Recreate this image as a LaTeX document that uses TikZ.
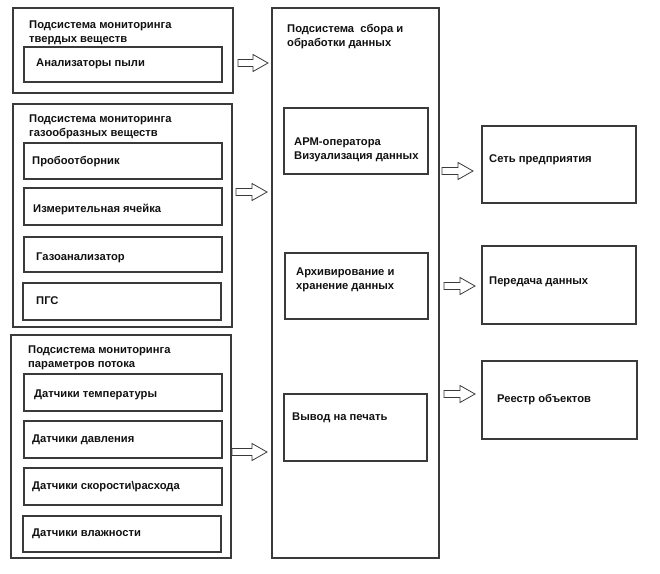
\documentclass[tikz,border=0pt]{standalone}
\usepackage{fontspec}
\setmainfont{Liberation Sans}
\definecolor{lc}{HTML}{3A3A3A}
\definecolor{tc}{HTML}{111111}
\newcommand\txt{\fontsize{11.2}{14.8}\selectfont\bfseries\color{tc}}
\newcommand\twol[2]{\vtop{\hbox{#1}\hbox{#2}}}
\newcommand\mkbox[5]{\node[box,minimum width=#4-#2,minimum height=#5-#3] (#1) at ({(#2+#4)/2},{(#3+#5)/2}) {};}
\newcommand\barrow[4]{\coordinate (#1) at (#2,#4);
  \draw[arr] (#1) ++(0,-3.5) -- (#3-15,#4-3.5) -- (#3-15,#4-8.5) -- (#3,#4) -- (#3-15,#4+8.5) -- (#3-15,#4+3.5) -- (#2,#4+3.5) -- cycle;}
\begin{document}
\begin{tikzpicture}[x=1pt,y=-1pt,
  box/.style={draw=lc,line width=1.3pt,inner sep=0,outer sep=0,fill=none},
  lbl/.style={anchor=mid west,inner sep=0,font=\txt,yshift=-1.5pt},
  ttl/.style={anchor=base west,inner sep=0,font=\txt,yshift=-1pt},
  arr/.style={draw=lc,line width=0.8pt,fill=white,line join=miter}]
\useasboundingbox[fill=white] (0,0) rectangle (660,573);
% left group 1
\mkbox{g1}{13}{8}{233}{93}
\node[ttl] (g1t) at (29,27) {\twol{Подсистема мониторинга}{твердых веществ}};
\mkbox{a1}{24}{47}{222}{82}
\node[lbl] (a1t) at (36,62) {Анализаторы пыли};
% left group 2
\mkbox{g2}{13}{104}{232}{327}
\node[ttl] (g2t) at (29,121) {\twol{Подсистема мониторинга}{газообразных веществ}};
\mkbox{b1}{24}{143}{222}{179}
\node[lbl] (b1t) at (32,160) {Пробоотборник};
\mkbox{b2}{24}{188}{222}{225}
\node[lbl] (b2t) at (33,208) {Измерительная ячейка};
\mkbox{b3}{24}{237}{222}{272}
\node[lbl] (b3t) at (36,256) {Газоанализатор};
\mkbox{b4}{23}{283}{221}{320}
\node[lbl] (b4t) at (36,300) {ПГС};
% left group 3
\mkbox{g3}{11}{335}{231}{558}
\node[ttl] (g3t) at (28,352) {\twol{Подсистема мониторинга}{параметров потока}};
\mkbox{c1}{24}{374}{222}{411}
\node[lbl] (c1t) at (34,393) {Датчики температуры};
\mkbox{c2}{24}{421}{222}{458}
\node[lbl] (c2t) at (32,438) {Датчики давления};
\mkbox{c3}{24}{468}{222}{505}
\node[lbl] (c3t) at (32,485) {Датчики скорости\textbackslash расхода};
\mkbox{c4}{23}{516}{221}{552}
\node[lbl] (c4t) at (32,532) {Датчики влажности};
% central
\mkbox{m}{272}{8}{439}{558}
\node[ttl] (mt) at (287,31) {\twol{Подсистема\ \ сбора и}{обработки данных}};
\mkbox{m1}{284}{108}{428}{174}
\node[ttl] (m1t) at (294,144) {\twol{АРМ-оператора}{Визуализация данных}};
\mkbox{m2}{285}{253}{428}{319}
\node[ttl] (m2t) at (296,274) {\twol{Архивирование и}{хранение данных}};
\mkbox{m3}{284}{394}{427}{461}
\node[lbl] (m3t) at (292,416) {Вывод на печать};
% right
\mkbox{r1}{482}{126}{636}{203}
\node[lbl] (r1t) at (489,158) {Сеть предприятия};
\mkbox{r2}{482}{246}{636}{324}
\node[lbl] (r2t) at (489,280) {Передача данных};
\mkbox{r3}{482}{361}{637}{439}
\node[lbl] (r3t) at (497,398) {Реестр объектов};
% block arrows
\barrow{p1}{238}{268}{63}
\barrow{p2}{236}{267}{192}
\barrow{p3}{232}{267}{452}
\barrow{p4}{442}{473}{171}
\barrow{p5}{444}{475}{286}
\barrow{p6}{444}{475}{394}
\end{tikzpicture}
\end{document}
